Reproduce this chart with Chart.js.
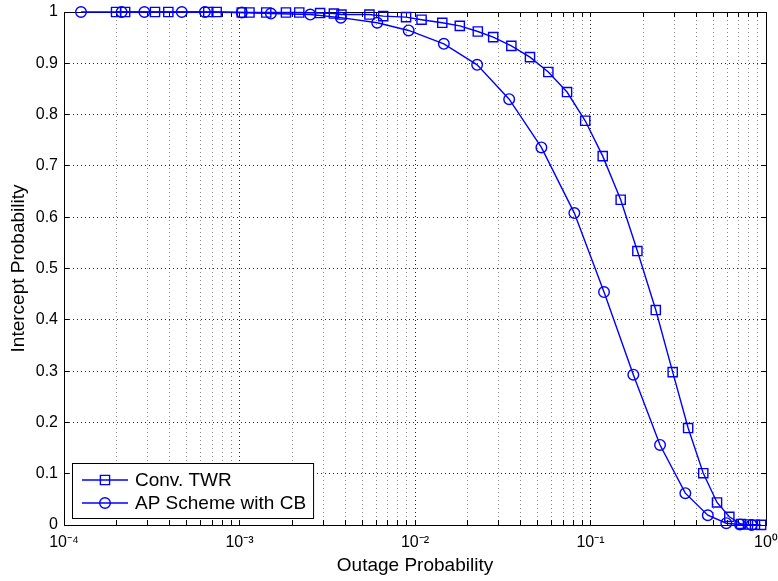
<!DOCTYPE html>
<html><head><meta charset="utf-8">
<script src="https://cdn.jsdelivr.net/npm/chart.js@4/dist/chart.umd.min.js"></script>
<style>html,body{margin:0;padding:0;background:#fff}#wrap{width:778px;height:581px;position:relative}</style>
</head><body><div id="wrap"><canvas id="c" width="778" height="581"></canvas></div>
<script>
// ---- data ----
const convOutage = [1.98e-4, 2.23e-4, 3.30e-4, 3.93e-4, 6.64e-4, 7.41e-4, 1.03e-3, 1.14e-3, 1.42e-3, 1.84e-3, 2.19e-3, 2.88e-3, 3.45e-3, 3.81e-3, 5.50e-3, 6.59e-3, 8.89e-3, 1.09e-2, 1.43e-2, 1.80e-2, 2.28e-2, 2.79e-2, 3.54e-2, 4.52e-2, 5.75e-2, 7.35e-2, 9.33e-2, 0.1174, 0.1486, 0.185, 0.2355, 0.294, 0.360, 0.439, 0.526, 0.618, 0.721, 0.789, 0.865, 0.938];
const convIntercept = [1, 1, 1, 1, 1, 1, 0.999, 0.999, 0.999, 0.999, 0.999, 0.998, 0.997, 0.995, 0.995, 0.992, 0.990, 0.985, 0.979, 0.973, 0.962, 0.951, 0.934, 0.912, 0.883, 0.844, 0.788, 0.719, 0.634, 0.534, 0.419, 0.298, 0.189, 0.101, 0.044, 0.016, 0.002, 0.001, 0.0005, 0.0002];
const apOutage = [1.25e-4, 2.13e-4, 2.87e-4, 4.69e-4, 6.35e-4, 1.03e-3, 1.51e-3, 2.53e-3, 3.78e-3, 6.09e-3, 9.20e-3, 1.46e-2, 2.26e-2, 3.44e-2, 5.25e-2, 8.09e-2, 0.1194, 0.1754, 0.249, 0.347, 0.466, 0.594, 0.711, 0.828];
const apIntercept = [1, 1, 1, 1, 1, 0.999, 0.997, 0.995, 0.989, 0.979, 0.964, 0.938, 0.897, 0.830, 0.736, 0.608, 0.454, 0.293, 0.156, 0.062, 0.019, 0.0035, 0.001, 0.0002];
const seriesNames = ['Conv. TWR', 'AP Scheme with CB'];
const xDecades = [1e-4, 1e-3, 1e-2, 1e-1, 1];
const xDecadeLabels = ['10\u207B\u2074', '10\u207B\u00B3', '10\u207B\u00B2', '10\u207B\u00B9', '10\u2070'];
const yTickValues = [0, 0.1, 0.2, 0.3, 0.4, 0.5, 0.6, 0.7, 0.8, 0.9, 1];
const yTickLabels = ['0', '0.1', '0.2', '0.3', '0.4', '0.5', '0.6', '0.7', '0.8', '0.9', '1'];
const xTitle = 'Outage Probability';
const yTitle = 'Intercept Probability';

// ---- build ----
const FONT = '"Liberation Sans", Arial, Helvetica, sans-serif';
const BLUE = '#0000ff';
const toPts = (xs, ys) => xs.map((x, i) => ({x, y: ys[i]}));
const xAllTicks = [];
xDecades.forEach((d, i) => {
  if (i < xDecades.length - 1) { for (let m = 1; m <= 9; m++) xAllTicks.push(+(m * d).toPrecision(3)); }
  else xAllTicks.push(d);
});
const isMajorX = v => xDecades.some(d => Math.abs(v - d) / d < 1e-6);

function setXTicks(s) { s.ticks = xAllTicks.map(v => ({value: v, major: isMajorX(v)})); }
function setYTicks(s) { s.ticks = yTickValues.map(v => ({value: v})); }
function fixSize(prop, val) {
  return s => { s[prop] = val; s.paddingLeft = 0; s.paddingRight = 0; s.paddingTop = 0; s.paddingBottom = 0; };
}
const logBase = {type: 'logarithmic', min: 1e-4, max: 1, afterBuildTicks: setXTicks};
const linBase = {type: 'linear', min: 0, max: 1, afterBuildTicks: setYTicks};
const tickOnly = (len) => ({
  grid: {display: true, drawOnChartArea: false, drawTicks: true, tickLength: len, color: '#000', lineWidth: 1},
  border: {display: true, color: '#000', width: 1},
  ticks: {display: false}
});

const legendPlugin = {
  id: 'boxLegend',
  afterDraw(chart) {
    const {ctx, chartArea} = chart;
    const ds = chart.data.datasets;
    ctx.save();
    ctx.font = '19px ' + FONT;
    const textW = Math.max(...ds.map(d => ctx.measureText(d.label).width));
    const w = 63 + textW + 7, h = 55;
    const x0 = Math.round(chartArea.left) + 8, y0 = Math.round(chartArea.bottom) - 7 - h;
    ctx.fillStyle = '#fff';
    ctx.fillRect(x0, y0, w, h);
    ctx.strokeStyle = '#000'; ctx.lineWidth = 1;
    ctx.strokeRect(x0 + 0.5, y0 + 0.5, w, h);
    ds.forEach((d, i) => {
      const cy = y0 + 17 + 23 * i;
      ctx.strokeStyle = d.borderColor; ctx.lineWidth = d.borderWidth;
      ctx.beginPath(); ctx.moveTo(x0 + 10, cy); ctx.lineTo(x0 + 56, cy); ctx.stroke();
      ctx.lineWidth = d.pointBorderWidth;
      ctx.beginPath();
      if (d.pointStyle === 'rect') {
        const s = d.pointRadius * Math.SQRT1_2;
        ctx.rect(x0 + 33 - s, cy - s, 2 * s, 2 * s);
      } else {
        ctx.arc(x0 + 33, cy, d.pointRadius, 0, Math.PI * 2);
      }
      ctx.stroke();
      ctx.fillStyle = '#000';
      ctx.textBaseline = 'middle'; ctx.textAlign = 'left';
      ctx.fillText(d.label, x0 + 63, cy + 1);
    });
    ctx.restore();
  }
};

new Chart(document.getElementById('c'), {
  type: 'scatter',
  data: {
    datasets: [
      {label: seriesNames[0], data: toPts(convOutage, convIntercept), showLine: true,
       borderColor: BLUE, borderWidth: 1.4, pointStyle: 'rect', pointRadius: 6.5, pointHoverRadius: 6.5,
       pointBorderColor: BLUE, pointBackgroundColor: 'rgba(0,0,0,0)', pointBorderWidth: 1.4, clip: false},
      {label: seriesNames[1], data: toPts(apOutage, apIntercept), showLine: true,
       borderColor: BLUE, borderWidth: 1.4, pointStyle: 'circle', pointRadius: 5.3, pointHoverRadius: 5.3,
       pointBorderColor: BLUE, pointBackgroundColor: 'rgba(0,0,0,0)', pointBorderWidth: 1.4, clip: false}
    ]
  },
  options: {
    responsive: false, animation: false, devicePixelRatio: 1,
    layout: {padding: 0},
    plugins: {legend: {display: false}, tooltip: {enabled: false}},
    scales: {
      x: Object.assign({}, logBase, {
        position: 'bottom', weight: 1, afterFit: fixSize('height', 56),
        grid: {display: true, drawOnChartArea: true, drawTicks: false,
               color: c => (c.tick && c.tick.major) ? 'rgba(0,0,0,0.85)' : 'rgba(0,0,0,0.45)', lineWidth: 1},
        border: {display: true, color: '#000', width: 1, dash: [1, 3]},
        ticks: {autoSkip: false, maxRotation: 0, minRotation: 0, padding: 8, color: '#000',
                font: {family: FONT, size: 16},
                callback: (v) => { const i = xDecades.findIndex(d => Math.abs(v - d) / d < 1e-6); return i >= 0 ? xDecadeLabels[i] : ''; }},
        title: {display: true, text: xTitle, color: '#000', font: {family: FONT, size: 19}, padding: {top: 0, bottom: 4}}
      }),
      xb: Object.assign({}, logBase, {position: 'bottom', weight: 0, afterFit: fixSize('height', 0)}, tickOnly(-5)),
      xt: Object.assign({}, logBase, {position: 'top', weight: 0, afterFit: fixSize('height', 12)}, tickOnly(-5)),
      y: Object.assign({}, linBase, {
        position: 'left', weight: 1, afterFit: fixSize('width', 64),
        grid: {display: true, drawOnChartArea: true, drawTicks: false, color: 'rgba(0,0,0,0.85)', lineWidth: 1},
        border: {display: true, color: '#000', width: 1, dash: [1, 3]},
        ticks: {autoSkip: false, padding: 6, color: '#000', font: {family: FONT, size: 16},
                callback: (v) => { const i = yTickValues.findIndex(t => Math.abs(t - v) < 1e-9); return i >= 0 ? yTickLabels[i] : ''; }},
        title: {display: true, text: yTitle, color: '#000', font: {family: FONT, size: 19}, padding: {top: 7, bottom: 0}}
      }),
      yl: Object.assign({}, linBase, {position: 'left', weight: 0, afterFit: fixSize('width', 0)}, tickOnly(-5)),
      yr: Object.assign({}, linBase, {position: 'right', weight: 0, afterFit: fixSize('width', 12)}, tickOnly(-5))
    }
  },
  plugins: [legendPlugin]
});
</script>
</body></html>
